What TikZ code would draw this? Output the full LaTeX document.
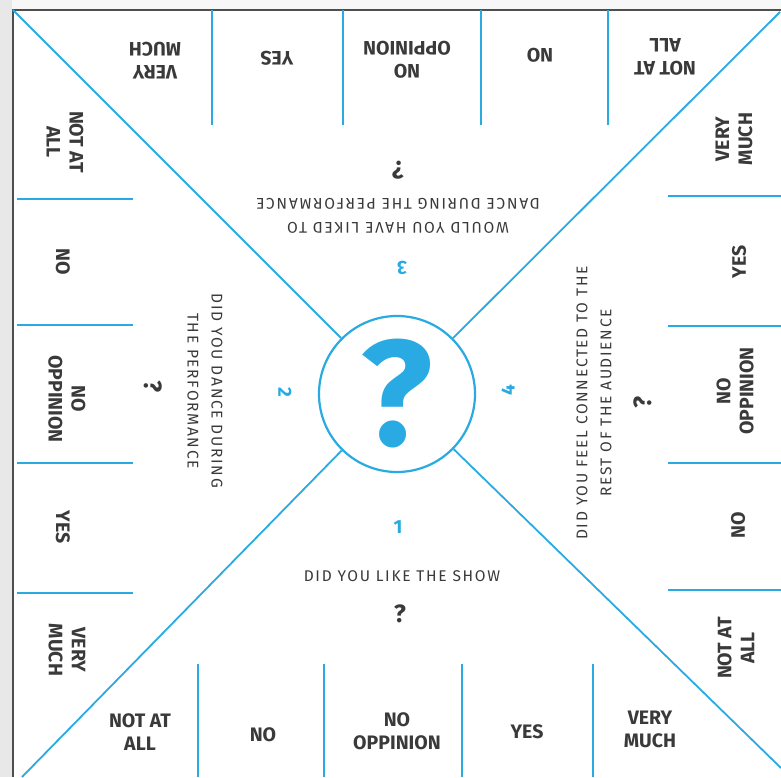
\documentclass[tikz,border=0pt]{standalone}
\usepackage{fontspec}
\setmainfont{Fira Sans}
\newfontfamily\qfont[LetterSpace=11]{Fira Sans}
\definecolor{qblue}{RGB}{41,170,226}
\definecolor{ink}{RGB}{58,58,58}
\begin{document}
\begin{tikzpicture}[x=1pt,y=1pt,
  sep/.style={qblue, line width=2.4pt},
  diag/.style={qblue, line width=1.8pt},
  ans/.style={font=\fontsize{19.5}{23}\selectfont\bfseries, text=ink, align=center, inner sep=0pt},
  ques/.style={font=\qfont\fontsize{15.5}{24}\selectfont, text=ink, align=center, inner sep=0pt},
  qmark/.style={font=\fontsize{25}{25}\selectfont\bfseries, text=ink, inner sep=0pt},
  num/.style={font=\fontsize{19}{19}\selectfont\bfseries, text=qblue, inner sep=0pt},
]
\useasboundingbox (0,0) rectangle (781,777);
\fill[white] (0,0) rectangle (781,777);
\fill[gray!18] (0,0) rectangle (12,777);
\fill[gray!6] (12,768) rectangle (781,777);
\draw[ink!90, line width=1.6pt] (13,0) -- (13,767) -- (781,767);

\coordinate (tl) at (13,767);
\coordinate (tr) at (780,765);
\coordinate (bl) at (22,0);
\coordinate (br) at (781,9);
\node[circle, draw=qblue, line width=2.2pt, minimum size=156pt, inner sep=0pt] (c) at (397,383) {};
\node[font=\fontsize{150}{150}\selectfont\bfseries, text=qblue, inner sep=0pt] (bigq) at (397,383) {?};
\foreach \p in {tl,tr,bl,br} \draw[diag] (\p) -- (c);

% separators
\foreach \x in {212,343,481,608} \draw[sep] (\x,767) -- (\x,652);
\foreach \x in {198,324,462,593} \draw[sep] (\x,0) -- (\x,113);
\foreach \y in {578,452,314,184} \draw[sep] (17,\y) -- (133,\y);
\foreach \y in {581,451,314,187} \draw[sep] (668,\y) -- (781,\y);

% bottom answers
\node[ans] (b1) at (140,45) {NOT AT\\ALL};
\node[ans] (b2) at (263,42) {NO};
\node[ans] (b3) at (397,46) {NO\\OPPINION};
\node[ans] (b4) at (527,45) {YES};
\node[ans] (b5) at (650,48) {VERY\\MUCH};
% top answers
\node[ans, rotate=180] (t1) at (155,716) {VERY\\MUCH};
\node[ans, rotate=180] (t2) at (277,719) {YES};
\node[ans, rotate=180] (t3) at (407,717) {NO\\OPPINION};
\node[ans, rotate=180] (t4) at (540,722) {NO};
\node[ans, rotate=180] (t5) at (665,720) {NOT AT\\ALL};
% left answers
\node[ans, rotate=-90] (l1) at (65,635) {NOT AT\\ALL};
\node[ans, rotate=-90] (l2) at (63,515) {NO};
\node[ans, rotate=-90] (l3) at (67,378) {NO\\OPPINION};
\node[ans, rotate=-90] (l4) at (63,250) {YES};
\node[ans, rotate=-90] (l5) at (67,127) {VERY\\MUCH};
% right answers
\node[ans, rotate=90] (r1) at (734,638) {VERY\\MUCH};
\node[ans, rotate=90] (r2) at (739,515) {YES};
\node[ans, rotate=90] (r3) at (735,386) {NO\\OPPINION};
\node[ans, rotate=90] (r4) at (738,252) {NO};
\node[ans, rotate=90] (r5) at (736,129) {NOT AT\\ALL};

% questions
\node[ques] (q1) at (402,201) {DID YOU LIKE THE SHOW};
\node[qmark] (m1) at (400,163) {?};
\node[num] (n1) at (398,250) {1};

\node[ques, rotate=180] (q3) at (398,561) {WOULD YOU HAVE LIKED TO\\DANCE DURING THE PERFORMANCE};
\node[qmark, rotate=180] (m3) at (398,607) {?};
\node[num, rotate=180] (n3) at (402,509) {3};

\node[ques, rotate=-90] (q2) at (205,386) {DID YOU DANCE DURING\\THE PERFORMANCE};
\node[qmark, rotate=-90] (m2) at (153,390) {?};
\node[num, rotate=-90] (n2) at (285,385) {2};

\node[ques, rotate=90] (q4) at (594,374) {DID YOU FEEL CONNECTED TO THE\\REST OF THE AUDIENCE};
\node[qmark, rotate=90] (m4) at (643,375) {?};
\node[num, rotate=90] (n4) at (508,387) {4};
\end{tikzpicture}
\end{document}
